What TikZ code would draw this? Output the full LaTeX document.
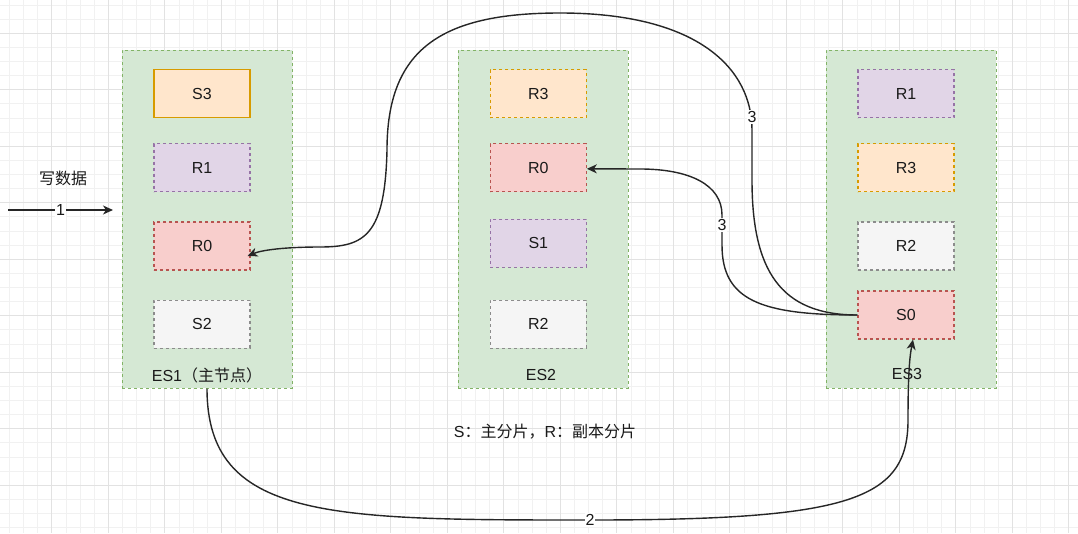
\documentclass[tikz,border=0pt]{standalone}
\usepackage{fontspec}
\setmainfont{Liberation Sans}
\newfontfamily\cjk{Noto Sans CJK SC}
\usetikzlibrary{arrows.meta}
\definecolor{gridminor}{HTML}{F1F1F1}
\definecolor{gridmajor}{HTML}{E2E2E2}
\definecolor{grnfill}{HTML}{D5E8D4}
\definecolor{grnline}{HTML}{82B366}
\definecolor{orafill}{HTML}{FFE6CC}
\definecolor{oraline}{HTML}{D79B00}
\definecolor{purfill}{HTML}{E1D5E7}
\definecolor{purline}{HTML}{9673A6}
\definecolor{redfill}{HTML}{F8CECC}
\definecolor{redline}{HTML}{B85450}
\definecolor{gryfill}{HTML}{F5F5F5}
\definecolor{gryline}{HTML}{666666}
\definecolor{txtcol}{HTML}{1A1A1A}
\tikzset{
  dsh/.style={dash pattern=on 3pt off 3pt},
  container/.style={draw=grnline, fill=grnfill, dsh, line width=1pt,
    minimum width=170pt, minimum height=338pt, inner sep=0pt},
  shard/.style={line width=1.1pt, minimum width=96pt, minimum height=48pt,
    inner sep=0pt, text=txtcol},
  sora/.style={shard, draw=oraline, fill=orafill},
  soradash/.style={shard, draw=oraline, fill=orafill, dsh},
  spur/.style={shard, draw=purline, fill=purfill, dsh},
  sred/.style={shard, draw=redline, fill=redfill, dsh},
  sgry/.style={shard, draw=gryline!75, fill=gryfill, dsh},
  txt/.style={text=txtcol, inner sep=1pt},
  elabel/.style={fill=white, text=txtcol, inner sep=1pt},
  conn/.style={draw=black!85, line width=1.4pt},
  tip/.style={-{Stealth[length=10pt,width=9pt,inset=3pt]}},
  every node/.append style={font=\fontsize{16}{19}\selectfont}
}
\begin{document}
\begin{tikzpicture}[x=1pt,y=-1pt]
\useasboundingbox (0,0) rectangle (1078,533);
\fill[white] (0,0) rectangle (1078,533);
% grid
\foreach \k in {0,...,76} {\draw[gridminor, line width=0.8pt] ({9.4+14.125*\k},0) -- ({9.4+14.125*\k},533);}
\foreach \k in {0,...,37} {\draw[gridminor, line width=0.8pt] (0,{5.0+14.125*\k}) -- (1078,{5.0+14.125*\k});}
\foreach \k in {0,...,18} {\draw[gridmajor, line width=1pt] ({51.7+56.5*\k},0) -- ({51.7+56.5*\k},533);}
\foreach \k in {0,...,9} {\draw[gridmajor, line width=1pt] (0,{33.3+56.5*\k}) -- (1078,{33.3+56.5*\k});}

% containers
\node[container] (es1) at (207,219) {};
\node[container] (es2) at (543.3,219) {};
\node[container] (es3) at (911,219) {};
\node[txt] (es1lbl) at (207,375) {ES1{\cjk （主节点）}};
\node[txt] (es2lbl) at (541,375) {ES2};
\node[txt] (es3lbl) at (907,374) {ES3};

% ES1 shards
\node[sora] (s3a) at (202,93.5) {S3};
\node[spur] (r1a) at (202,167.7) {R1};
\node[sred] (r0a) at (202,246) {R0};
\node[sgry] (s2a) at (202,324.2) {S2};
% ES2 shards
\node[soradash] (r3b) at (538.3,93.7) {R3};
\node[sred] (r0b) at (538.3,167.8) {R0};
\node[spur] (s1b) at (538.3,243.2) {S1};
\node[sgry] (r2b) at (538.3,324.2) {R2};
% ES3 shards
\node[spur] (r1c) at (906,93.5) {R1};
\node[soradash] (r3c) at (906,167.7) {R3};
\node[sgry] (r2c) at (906,246) {R2};
\node[sred] (s0c) at (906,315) {S0};

% write arrow
\node[txt] (write) at (63,178) {\cjk 写数据};
\coordinate (w0) at (8,210);
\coordinate (w1) at (113,210);
\draw[conn, tip] (w0) -- node[elabel] {1} (w1);

% legend
\node[txt] (legend) at (545,432) {S{\cjk ：主分片，}R{\cjk ：副本分片}};

% edge 2
\draw[conn, tip] (es1.south) .. controls (207,520) and (330,520) .. (590,520)
  node[elabel] {2}
  .. controls (850,520) and (908,500) .. (908,420)
  .. controls (908,370) and (910,355) .. ([xshift=7pt]s0c.south);

% edge 3 (top, to ES1 R0)
\draw[conn, tip] (s0c.west) .. controls (780,315) and (752,270) .. (752,180)
  -- (752,117) node[elabel] {3} -- (752,130)
  .. controls (752,70) and (700,13) .. (560,13)
  .. controls (440,13) and (387,50) .. (387,150)
  .. controls (385,235) and (365,247) .. (320,247)
  .. controls (285,247) and (262,250) .. ([xshift=-3pt,yshift=-10pt]r0a.east);

% edge 3 (middle, to ES2 R0)
\draw[conn, tip] (s0c.west) .. controls (760,315) and (722,300) .. (722,245)
  -- (722,225) node[elabel] {3} -- (722,215)
  .. controls (722,185) and (690,169) .. (640,169)
  -- ([yshift=-1pt]r0b.east);
\end{tikzpicture}
\end{document}
